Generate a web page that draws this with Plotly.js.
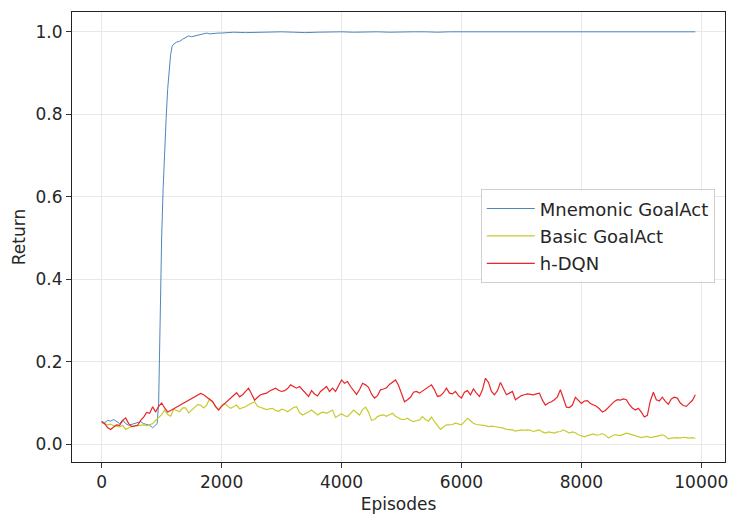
<!DOCTYPE html>
<html>
<head>
<meta charset="utf-8">
<script src="https://cdn.plot.ly/plotly-3.0.1.min.js"></script>
<style>html,body{margin:0;padding:0;background:#fff;}#chart{width:733px;height:515px;}</style>
</head>
<body>
<div id="chart"></div>
<script>
// Episodes sampled every 50 for Basic GoalAct and h-DQN
const episodes = [
0,50,100,150,200,250,300,350,400,450,500,550,600,650,700,750,800,850,900,950,
1000,1050,1100,1150,1200,1250,1300,1350,1400,1450,1500,1550,1600,1650,1700,1750,1800,1850,1900,1950,
2000,2050,2100,2150,2200,2250,2300,2350,2400,2450,2500,2550,2600,2650,2700,2750,2800,2850,2900,2950,
3000,3050,3100,3150,3200,3250,3300,3350,3400,3450,3500,3550,3600,3650,3700,3750,3800,3850,3900,3950,
4000,4050,4100,4150,4200,4250,4300,4350,4400,4450,4500,4550,4600,4650,4700,4750,4800,4850,4900,4950,
5000,5050,5100,5150,5200,5250,5300,5350,5400,5450,5500,5550,5600,5650,5700,5750,5800,5850,5900,5950,
6000,6050,6100,6150,6200,6250,6300,6350,6400,6450,6500,6550,6600,6650,6700,6750,6800,6850,6900,6950,
7000,7050,7100,7150,7200,7250,7300,7350,7400,7450,7500,7550,7600,7650,7700,7750,7800,7850,7900,7950,
8000,8050,8100,8150,8200,8250,8300,8350,8400,8450,8500,8550,8600,8650,8700,8750,8800,8850,8900,8950,
9000,9050,9100,9150,9200,9250,9300,9350,9400,9450,9500,9550,9600,9650,9700,9750,9800,9850,9900
];

const hdqn = [
0.055,0.050,0.040,0.036,0.042,0.047,0.046,0.058,0.064,0.050,0.043,0.045,0.046,0.058,0.066,0.077,0.075,0.091,0.078,0.092,
0.100,0.088,0.078,0.082,0.086,0.090,0.095,0.100,0.104,0.108,0.110,0.115,0.119,0.123,0.120,0.115,0.110,0.103,0.092,0.083,
0.092,0.099,0.104,0.112,0.118,0.125,0.115,0.120,0.128,0.136,0.122,0.107,0.114,0.120,0.122,0.124,0.129,0.133,0.136,0.131,
0.128,0.130,0.135,0.144,0.140,0.136,0.140,0.132,0.126,0.116,0.130,0.122,0.117,0.128,0.134,0.140,0.128,0.136,0.128,0.142,
0.156,0.148,0.152,0.140,0.130,0.121,0.132,0.148,0.144,0.138,0.122,0.112,0.118,0.132,0.134,0.137,0.145,0.150,0.156,0.143,
0.120,0.103,0.108,0.114,0.126,0.128,0.124,0.129,0.134,0.139,0.144,0.132,0.116,0.118,0.125,0.136,0.124,0.122,0.128,0.118,
0.112,0.126,0.130,0.120,0.134,0.124,0.116,0.132,0.160,0.150,0.128,0.120,0.130,0.150,0.135,0.120,0.124,0.128,0.108,0.114,
0.118,0.120,0.122,0.121,0.120,0.122,0.124,0.107,0.095,0.100,0.103,0.108,0.115,0.132,0.110,0.090,0.089,0.095,0.114,0.106,
0.099,0.105,0.106,0.099,0.096,0.092,0.086,0.078,0.082,0.090,0.098,0.104,0.108,0.107,0.110,0.108,0.096,0.088,0.083,0.087,
0.078,0.066,0.070,0.105,0.126,0.108,0.105,0.114,0.104,0.097,0.110,0.114,0.112,0.100,0.094,0.092,0.099,0.106,0.120
];

const basicGoalAct = [
0.052,0.050,0.047,0.049,0.045,0.044,0.042,0.046,0.036,0.040,0.043,0.044,0.045,0.046,0.047,0.045,0.048,0.050,0.058,0.064,
0.072,0.083,0.072,0.068,0.085,0.082,0.079,0.088,0.088,0.076,0.082,0.088,0.096,0.095,0.088,0.095,0.110,0.104,0.090,0.084,
0.094,0.099,0.093,0.087,0.091,0.095,0.086,0.088,0.091,0.096,0.100,0.103,0.092,0.089,0.087,0.084,0.086,0.087,0.082,0.080,
0.085,0.083,0.079,0.085,0.089,0.091,0.077,0.071,0.074,0.078,0.083,0.077,0.071,0.076,0.078,0.075,0.080,0.083,0.065,0.070,
0.074,0.069,0.067,0.075,0.083,0.077,0.071,0.084,0.090,0.078,0.058,0.060,0.067,0.070,0.071,0.068,0.071,0.075,0.068,0.063,
0.060,0.060,0.063,0.058,0.055,0.057,0.059,0.067,0.060,0.056,0.066,0.055,0.046,0.036,0.042,0.047,0.047,0.048,0.051,0.049,
0.047,0.055,0.063,0.057,0.051,0.048,0.047,0.047,0.045,0.043,0.044,0.043,0.042,0.041,0.039,0.036,0.035,0.035,0.032,0.033,
0.035,0.034,0.035,0.034,0.031,0.033,0.035,0.030,0.027,0.030,0.029,0.027,0.030,0.031,0.035,0.030,0.027,0.030,0.028,0.023,
0.020,0.018,0.021,0.023,0.025,0.022,0.023,0.026,0.022,0.015,0.019,0.023,0.022,0.021,0.024,0.027,0.025,0.023,0.020,0.018,
0.016,0.018,0.019,0.016,0.017,0.019,0.021,0.023,0.020,0.013,0.015,0.016,0.016,0.015,0.017,0.016,0.015,0.016,0.014
];

// Mnemonic GoalAct has its own, denser sampling around the jump
const mnemonicEpisodes = [
0,50,100,150,200,250,300,350,400,450,500,550,600,650,700,750,800,850,900,925,
950,975,1000,1025,1050,1075,1100,1125,1150,1175,1200,1250,1300,1350,1400,1450,1500,1550,1600,1650,
1700,1750,1800,1850,1900,1950,2000,2100,2200,2400,2600,2800,3000,3200,3400,3600,3800,4000,4200,4400,
4600,4800,5000,5200,5400,5600,5800,6000,6200,6400,6600,6800,7000,7200,7400,7600,7800,8000,8200,8400,
8600,8800,9000,9200,9400,9600,9800,9900
];
const mnemonicGoalAct = [
0.055,0.052,0.058,0.056,0.060,0.055,0.050,0.059,0.050,0.046,0.048,0.050,0.052,0.055,0.050,0.048,0.046,0.040,0.046,0.050,
0.100,0.330,0.500,0.620,0.720,0.790,0.860,0.910,0.945,0.965,0.970,0.975,0.977,0.982,0.986,0.990,0.988,0.990,0.991,0.994,
0.996,0.997,0.995,0.996,0.996,0.997,0.997,0.998,0.999,0.998,0.999,0.999,1.000,0.999,0.998,0.999,1.000,1.000,0.999,1.000,
1.000,0.999,1.000,1.000,1.000,0.999,1.000,1.000,1.000,1.000,0.999,1.000,1.000,1.000,1.000,1.000,1.000,1.000,1.000,1.000,
1.000,1.000,1.000,1.000,1.000,1.000,1.000,1.000
];

const xTicks = [0, 2000, 4000, 6000, 8000, 10000];
const yTicks = [0.0, 0.2, 0.4, 0.6, 0.8, 1.0];
const xTickText = ["0", "2000", "4000", "6000", "8000", "10000"];
const yTickText = ["0.0", "0.2", "0.4", "0.6", "0.8", "1.0"];

const FONT = "DejaVu Sans, Liberation Sans, sans-serif";

const traces = [
  {x: mnemonicEpisodes, y: mnemonicGoalAct, type: "scatter", mode: "lines", name: "Mnemonic GoalAct",
   legendgroup: "a", line: {color: "#4f86bf", width: 1}},
  {x: episodes, y: basicGoalAct, type: "scatter", mode: "lines", name: "Basic GoalAct",
   legendgroup: "b", line: {color: "#c9c930", width: 1.2}},
  {x: episodes, y: hdqn, type: "scatter", mode: "lines", name: "h-DQN",
   legendgroup: "c", line: {color: "#e8262a", width: 1.2}}
];

const axisCommon = {
  showline: true, mirror: true, linecolor: "#222", linewidth: 1,
  ticks: "outside", ticklen: 5, tickwidth: 1, tickcolor: "#333",
  showgrid: true, gridcolor: "#e8e8e8", gridwidth: 1, zeroline: false,
  tickfont: {family: FONT, size: 17, color: "#262626"}
};

const layout = {
  width: 733, height: 515,
  margin: {l: 72, r: 8, t: 12, b: 53},
  paper_bgcolor: "#fff", plot_bgcolor: "#fff",
  font: {family: FONT, size: 17, color: "#262626"},
  xaxis: Object.assign({}, axisCommon, {
    range: [-495, 10395], tickvals: xTicks, ticktext: xTickText,
    title: {text: "Episodes", font: {family: FONT, size: 17, color: "#262626"}, standoff: 6}
  }),
  yaxis: Object.assign({}, axisCommon, {
    range: [-0.043, 1.048], tickvals: yTicks, ticktext: yTickText,
    title: {text: "Return", font: {family: FONT, size: 17, color: "#262626"}, standoff: 5}
  }),
  showlegend: true,
  legend: {
    x: 0.626, y: 0.606, xanchor: "left", yanchor: "top",
    bgcolor: "rgba(255,255,255,0.9)", bordercolor: "#cfcfcf", borderwidth: 1,
    itemwidth: 48, tracegroupgap: 1,
    font: {family: FONT, size: 18, color: "#262626"}
  }
};

Plotly.newPlot("chart", traces, layout, {displayModeBar: false, staticPlot: true});
</script>
</body>
</html>
